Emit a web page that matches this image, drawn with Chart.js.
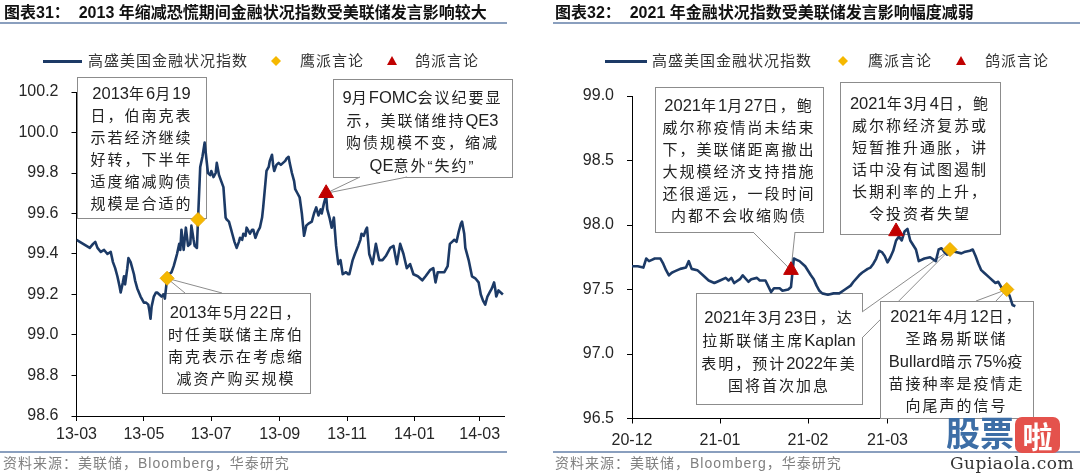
<!DOCTYPE html>
<html><head><meta charset="utf-8">
<script src="https://cdn.jsdelivr.net/npm/chart.js@4.4.1/dist/chart.umd.min.js"></script>
<style>
body{margin:0;width:1080px;height:476px;background:#fff;position:relative;overflow:hidden;font-family:"Liberation Sans","Noto Sans CJK SC",sans-serif;color:#222;}
.cv{position:absolute;top:0;width:540px;height:476px;}
.title{position:absolute;top:3px;font-weight:bold;font-size:16px;line-height:20px;color:#111;white-space:nowrap;}
.rule{position:absolute;height:2px;background:#8a9fbe;}
.leg{position:absolute;font-size:15px;letter-spacing:1px;line-height:20px;color:#333;white-space:nowrap;}
.legline{position:absolute;height:3px;background:#1c3a66;}
.note{position:absolute;font-size:15px;letter-spacing:2px;line-height:22px;text-align:center;color:#222;white-space:nowrap;}
.note span.lat{letter-spacing:0;font-size:16.5px;}
.src{position:absolute;top:454px;font-size:14px;letter-spacing:1px;color:#808080;white-space:nowrap;line-height:18px;}
</style></head>
<body>
<canvas id="c1" class="cv" style="left:0"></canvas>
<canvas id="c2" class="cv" style="left:540px"></canvas>

<div class="title" style="left:4px">图表31：&nbsp; 2013 年缩减恐慌期间金融状况指数受美联储发言影响较大</div>
<div class="rule" style="left:0;top:22px;width:507px"></div>
<div class="title" style="left:555px">图表32：&nbsp; 2021 年金融状况指数受美联储发言影响幅度减弱</div>
<div class="rule" style="left:553px;top:22px;width:527px"></div>

<div class="legline" style="left:43px;top:60px;width:39px"></div>
<div class="leg" style="left:88px;top:51px">高盛美国金融状况指数</div>
<svg style="position:absolute;left:271px;top:56px" width="10" height="10"><polygon points="5,0 10,5 5,10 0,5" fill="#f5b800"/></svg>
<div class="leg" style="left:300px;top:51px">鹰派言论</div>
<svg style="position:absolute;left:387px;top:56px" width="10" height="10"><polygon points="5,0 10,9 0,9" fill="#c00000"/></svg>
<div class="leg" style="left:415px;top:51px">鸽派言论</div>

<div class="legline" style="left:605px;top:60px;width:42px"></div>
<div class="leg" style="left:652px;top:51px">高盛美国金融状况指数</div>
<svg style="position:absolute;left:838px;top:56px" width="10" height="10"><polygon points="5,0 10,5 5,10 0,5" fill="#f5b800"/></svg>
<div class="leg" style="left:868px;top:51px">鹰派言论</div>
<svg style="position:absolute;left:956px;top:56px" width="10" height="10"><polygon points="5,0 10,9 0,9" fill="#c00000"/></svg>
<div class="leg" style="left:985px;top:51px">鸽派言论</div>

<div class="rule" style="left:0;top:451px;width:507px;height:1.5px"></div>
<div class="rule" style="left:553px;top:451px;width:527px;height:1.5px"></div>
<div class="src" style="left:3px">资料来源：美联储，Bloomberg，华泰研究</div>
<div class="src" style="left:555px">资料来源：美联储，Bloomberg，华泰研究</div>

<div id="notes"></div>

<div style="position:absolute;left:946px;top:410px;font-size:34px;font-weight:bold;color:#3d6ea6;font-family:'Noto Sans CJK SC';line-height:44px">股票</div>
<div style="position:absolute;left:1015px;top:417px;width:45px;height:36px;border-radius:7px;background:#e4524c;color:#fff;font-size:30px;font-weight:bold;text-align:center;line-height:36px;font-family:'Noto Sans CJK SC'">啦</div>
<div style="position:absolute;left:950px;top:453px;font-size:17px;color:#333;font-family:'DejaVu Serif';line-height:20px;letter-spacing:0.5px">Gupiaola.com</div>

<script>
// ---------- DATA ----------
// Left chart: days since 2013-03-01
const leftDays = [0,3,6,9,12,15,17,19,22,25,28,31,33,35,37,39,40,42,43,44,46,47,49,50,52,53,55,58,60,61,63,65,66,67,68,70,72,73,75,77,79,80,82,84,86,88,90,91,93,94,95,97,99,101,103,104,106,107,109,110,111,112,114,116,117,118,119,121,122,124,126,127,128,129,131,133,135,136,138,140,141,143,145,147,148,150,151,153,154,156,157,159,160,162,164,166,168,169,171,172,174,175,177,178,179,181,183,185,187,189,190,192,193,195,197,198,200,202,204,206,208,210,213,215,217,219,221,222,224,226,227,229,231,233,235,237,239,241,244,246,247,250,252,255,257,258,260,262,263,265,268,271,274,277,280,284,287,290,293,296,299,302,305,309,313,316,320,323,325,327,330,333,336,338,340,342,344,346,348,349,351,352,355,358,361,364,366,368,370,372,374,376,378,379,380,382,384,386];
const leftValues = [99.47,99.46,99.45,99.44,99.43,99.45,99.46,99.43,99.41,99.42,99.40,99.41,99.36,99.33,99.29,99.24,99.21,99.26,99.29,99.25,99.33,99.38,99.36,99.34,99.30,99.27,99.23,99.19,99.17,99.16,99.16,99.15,99.12,99.08,99.14,99.19,99.21,99.21,99.20,99.19,99.20,99.18,99.28,99.30,99.31,99.34,99.38,99.40,99.45,99.42,99.52,99.42,99.53,99.44,99.45,99.54,99.47,99.44,99.43,99.57,99.70,99.83,99.88,99.95,99.90,99.85,99.80,99.79,99.81,99.78,99.80,99.85,99.82,99.79,99.76,99.73,99.58,99.57,99.56,99.52,99.50,99.46,99.43,99.46,99.48,99.47,99.50,99.49,99.53,99.51,99.50,99.52,99.52,99.48,99.51,99.53,99.58,99.63,99.75,99.81,99.83,99.86,99.89,99.84,99.81,99.84,99.85,99.84,99.85,99.86,99.87,99.88,99.85,99.80,99.76,99.72,99.70,99.68,99.60,99.49,99.54,99.55,99.56,99.60,99.63,99.59,99.62,99.60,99.65,99.69,99.62,99.58,99.53,99.58,99.44,99.35,99.37,99.30,99.31,99.30,99.30,99.37,99.40,99.44,99.47,99.50,99.49,99.52,99.53,99.40,99.35,99.45,99.37,99.37,99.39,99.43,99.44,99.35,99.45,99.40,99.33,99.35,99.30,99.29,99.27,99.29,99.32,99.33,99.26,99.31,99.31,99.31,99.34,99.45,99.46,99.47,99.46,99.51,99.55,99.56,99.50,99.43,99.37,99.29,99.28,99.26,99.20,99.17,99.15,99.19,99.21,99.23,99.26,99.23,99.19,99.22,99.21,99.20];
const leftHawkDays = [82,110];        // 2013-05-22, 2013-06-19
const leftHawkValues = [99.28,99.57];
const leftDoveDays = [226];           // Sept FOMC minutes
const leftDoveValues = [99.70];
const leftTickDays = [0,61,122,184,245,306,365];
const leftTickLabels = ['13-03','13-05','13-07','13-09','13-11','14-01','14-03'];
const leftYTicks = [98.6,98.8,99.0,99.2,99.4,99.6,99.8,100.0,100.2];

// Right chart: days since 2020-12-01
const rightDays = [0,2,4,5,6,7,8,10,11,12,13,14,15,17,19,20,21,23,25,27,29,31,33,34,35,36,38,39,41,42,44,45,47,49,50,52,53,55,56,57,58,59,61,63,64,65,66,67,69,71,73,75,77,78,80,81,83,84,85,86,87,88,89,90,91,92,93,94,95,96,97,98,100,101,103,105,107,108,109,110,111,112,113,114,116,117,119,120,121,122,123,124,126,127,128,129,130,131,132,133,134,135];
const rightValues = [97.68,97.68,97.67,97.74,97.72,97.73,97.74,97.74,97.70,97.65,97.61,97.63,97.64,97.66,97.67,97.72,97.66,97.65,97.61,97.57,97.55,97.57,97.59,97.57,97.59,97.55,97.58,97.61,97.56,97.58,97.59,97.57,97.57,97.48,97.51,97.51,97.49,97.50,97.52,97.74,97.73,97.72,97.68,97.61,97.58,97.53,97.49,97.47,97.46,97.47,97.47,97.50,97.53,97.56,97.61,97.63,97.66,97.67,97.70,97.74,97.80,97.79,97.76,97.71,97.75,97.80,97.88,97.91,97.88,97.95,97.97,97.88,97.81,97.72,97.74,97.75,97.72,97.81,97.82,97.79,97.77,97.78,97.80,97.79,97.78,97.79,97.80,97.81,97.76,97.70,97.65,97.63,97.59,97.57,97.55,97.56,97.52,97.50,97.50,97.45,97.38,97.37];
const rightHawkDays = [112,132];      // 2021-03-23, 2021-04-12
const rightHawkValues = [97.81,97.50];
const rightDoveDays = [56,93];        // 2021-01-27, 2021-03-04
const rightDoveValues = [97.65,97.95];
const rightTickDays = [0,31,62,90];
const rightTickLabels = ['20-12','21-01','21-02','21-03'];
const rightYTicks = [96.5,97.0,97.5,98.0,98.5,99.0];

const seriesName = '高盛美国金融状况指数';
const hawkName = '鹰派言论';
const doveName = '鸽派言论';

const noteTexts = {
  a: ['2013年6月19','日，伯南克表','示若经济继续','好转，下半年','适度缩减购债','规模是合适的'],
  b: ['9月FOMC会议纪要显','示，美联储维持QE3','购债规模不变，缩减','QE意外“失约”'],
  c: ['2013年5月22日，','时任美联储主席伯','南克表示在考虑缩','减资产购买规模'],
  d: ['2021年1月27日，鲍','威尔称疫情尚未结束','下，美联储距离撤出','大规模经济支持措施','还很遥远，一段时间','内都不会收缩购债'],
  e: ['2021年3月4日，鲍','威尔称经济复苏或','短暂推升通胀，讲','话中没有试图遏制','长期利率的上升，','令投资者失望'],
  f: ['2021年3月23日，达','拉斯联储主席Kaplan','表明，预计2022年美','国将首次加息'],
  g: ['2021年4月12日，','圣路易斯联储','Bullard暗示75%疫','苗接种率是疫情走','向尾声的信号']
};

// ---------- LAYOUT (callout boxes, page px) ----------
const leftNotes = [
  {key:'a', box:[77,77,206,218], pad:5, tail:null},
  {key:'b', box:[333,79,512,177], pad:7, tail:[[360,177],[407,177]], ds:1, pt:0},
  {key:'c', box:[162,293,310,393], pad:8, tail:[[185,293],[222,293]], ds:0, pt:0}
];
const rightNotes = [
  {key:'d', box:[655,87,823,232], pad:7, tail:[[753,232],[795,232]], ds:1, pt:0},
  {key:'e', box:[840,82,1000,234], pad:10, tail:null},
  {key:'f', box:[696,293,862,404], pad:13, tail:[[862,312],[862,338]], ds:0, pt:0},
  {key:'g', box:[880,301,1033,418], pad:4, tail:[[976,301],[996,301]], ds:0, pt:1}
];

function esc(s){ return s.replace(/&/g,'&amp;').replace(/</g,'&lt;'); }
const notesEl = document.getElementById('notes');
[...leftNotes, ...rightNotes].forEach(n=>{
  const d = document.createElement('div');
  d.className='note';
  d.style.left = n.box[0]+'px';
  d.style.top = (n.box[1]+n.pad)+'px';
  d.style.width = (n.box[2]-n.box[0])+'px';
  d.innerHTML = noteTexts[n.key].map(line=>esc(line).replace(/([A-Za-z0-9%.]+)/g,'<span class="lat">$1</span>')).join('<br>');
  notesEl.appendChild(d);
});

const calloutPlugin = {
  id:'callouts',
  beforeDatasetsDraw(chart, args, opts){
    const ctx = chart.ctx, off = opts.offset;
    opts.items.forEach(it=>{
      const l=it.box[0]-off, t=it.box[1], r=it.box[2]-off, b=it.box[3];
      ctx.save();
      ctx.fillStyle='#fff'; ctx.strokeStyle='#8c8c8c'; ctx.lineWidth=1;
      ctx.fillRect(l,t,r-l,b-t);
      ctx.strokeRect(Math.round(l)+0.5,Math.round(t)+0.5,r-l,b-t);
      if(it.tail){
        const p = chart.data.datasets[it.ds].data[it.pt];
        const tx = chart.scales.x.getPixelForValue(p.x), ty = chart.scales.y.getPixelForValue(p.y);
        const a=[it.tail[0][0]-off,it.tail[0][1]], c=[it.tail[1][0]-off,it.tail[1][1]];
        ctx.beginPath(); ctx.moveTo(a[0],a[1]); ctx.lineTo(tx,ty); ctx.lineTo(c[0],c[1]); ctx.closePath(); ctx.fill();
        ctx.beginPath(); ctx.moveTo(a[0],a[1]); ctx.lineTo(tx,ty); ctx.lineTo(c[0],c[1]); ctx.stroke();
      }
      ctx.restore();
    });
  }
};

function zip(xs, ys){ return xs.map((x,i)=>({x:x, y:ys[i]})); }

function makeChart(id, cfg){
  const ctx = document.getElementById(id);
  ctx.width = 540; ctx.height = 476;
  return new Chart(ctx, {
    type:'line',
    data:{datasets:[
      {label:hawkName, data:zip(cfg.hawkDays,cfg.hawkVals), showLine:false, pointStyle:'rectRot', pointRadius:7, pointBackgroundColor:'#f5b800', pointBorderColor:'#eaa800', pointBorderWidth:1, order:0},
      {label:doveName, data:zip(cfg.doveDays,cfg.doveVals), showLine:false, pointStyle:'triangle', pointRadius:8.5, pointBackgroundColor:'#c00000', pointBorderColor:'#c00000', pointBorderWidth:1, order:1},
      {label:seriesName, data:zip(cfg.days,cfg.vals), borderColor:'#1c3a66', borderWidth:2.6, pointRadius:0, tension:0, borderJoinStyle:'round', fill:false, order:2}
    ]},
    options:{
      responsive:false, animation:false, events:[],
      layout:{padding:cfg.padding},
      plugins:{legend:{display:false}, tooltip:{enabled:false}, callouts:{offset:cfg.offset, items:cfg.notes}},
      scales:{
        x:{type:'linear', min:0, max:cfg.xMax,
          afterBuildTicks:s=>{ s.ticks = cfg.tickDays.map(v=>({value:v})); },
          afterFit:s=>{ s.height = cfg.xHeight; },
          ticks:{autoSkip:false, maxRotation:0, padding:cfg.xPad, color:'#262626', font:{family:'Liberation Sans', size:16},
            callback:(v,i)=>cfg.tickLabels[i]},
          grid:{display:true, drawOnChartArea:false, drawTicks:true, tickLength:5, color:'#000', lineWidth:1},
          border:{display:true, color:'#000', width:1}
        },
        y:{type:'linear', min:cfg.yTicks[0], max:cfg.yTicks[cfg.yTicks.length-1],
          afterBuildTicks:s=>{ s.ticks = cfg.yTicks.map(v=>({value:v})); },
          afterFit:s=>{ s.width = cfg.yWidth; },
          ticks:{padding:cfg.yPad, color:'#262626', font:{family:'Liberation Sans', size:16}, callback:v=>Number(v).toFixed(1)},
          grid:{display:true, drawOnChartArea:false, drawTicks:true, tickLength:5, color:'#000', lineWidth:1},
          border:{display:true, color:'#000', width:1}
        }
      }
    },
    plugins:[calloutPlugin]
  });
}

makeChart('c1', {
  days:leftDays, vals:leftValues, hawkDays:leftHawkDays, hawkVals:leftHawkValues,
  doveDays:leftDoveDays, doveVals:leftDoveValues, tickDays:leftTickDays, tickLabels:leftTickLabels,
  yTicks:leftYTicks, xMax:387, padding:{top:92,right:36,left:0,bottom:0},
  xHeight:60, yWidth:76.5, xPad:4, yPad:13, offset:0, notes:leftNotes
});
makeChart('c2', {
  days:rightDays, vals:rightValues, hawkDays:rightHawkDays, hawkVals:rightHawkValues,
  doveDays:rightDoveDays, doveVals:rightDoveValues, tickDays:rightTickDays, tickLabels:rightTickLabels,
  yTicks:rightYTicks, xMax:137, padding:{top:96,right:59,left:0,bottom:0},
  xHeight:57.5, yWidth:92, xPad:7, yPad:13, offset:540, notes:rightNotes
});
</script>
</body></html>
